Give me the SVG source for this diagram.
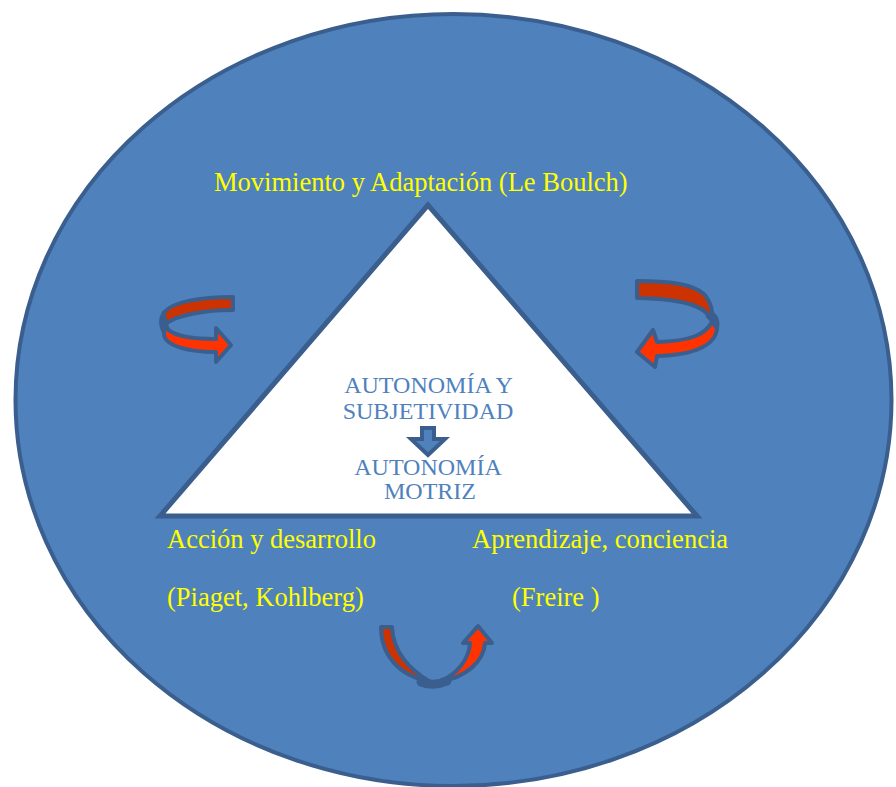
<svg xmlns="http://www.w3.org/2000/svg" width="896" height="787" viewBox="0 0 896 787">
<style>
.y{font-family:"Liberation Serif","Times New Roman",serif;font-size:26.5px;fill:#FFFF00}
.c{font-family:"Liberation Serif","Times New Roman",serif;font-size:24px;fill:#4F81BD;text-anchor:middle}
.ol{stroke:#3A5F8E;stroke-width:4;stroke-linejoin:round}
.dk{fill:#CC3300}
.br{fill:#FF3300}
</style>
<rect width="896" height="787" fill="#FFFFFF"/>
<g id="circle">
<ellipse cx="453.5" cy="400" rx="438" ry="386" fill="#4F81BD" stroke="#3A5F8E" stroke-width="4"/>
</g>
<g id="triangle">
<polygon points="428,205 160,516 697,516" fill="#FFFFFF" stroke="#3A5F8E" stroke-width="5" stroke-linejoin="miter"/>
</g>
<g id="center">
<text class="c" x="428.5" y="393">AUTONOMÍA Y</text>
<text class="c" x="428" y="419">SUBJETIVIDAD</text>
<polygon points="422,428 434,428 434,439 445,439 428,455 411,439 422,439" fill="#4F81BD" stroke="#3A5F8E" stroke-width="4" stroke-linejoin="miter"/>
<text class="c" x="428" y="475">AUTONOMÍA</text>
<text class="c" x="430" y="499">MOTRIZ</text>
</g>
<g id="label-top">
<text class="y" x="214" y="191">Movimiento y Adaptación (Le Boulch)</text>
</g>
<g id="label-left">
<text class="y" x="167" y="548">Acción y desarrollo</text>
<text class="y" x="167" y="606">(Piaget, Kohlberg)</text>
</g>
<g id="label-right">
<text class="y" x="472" y="548">Aprendizaje, conciencia</text>
<text class="y" x="512" y="606">(Freire )</text>
</g>
<g id="connectors">
<g id="arrow-left">
<path d="M 166 314 Q 161 322 166 331" fill="none" stroke="#3A5F8E" stroke-width="9" stroke-linecap="round"/>
<path class="dk ol" d="M 233 297 C 200 297 171 302 164 313 C 164 318 165 321 167 323 C 178 315 205 310 233 310 Z"/>
<path class="br ol" d="M 164 325 C 170 336 190 339 216 339 L 216 328 L 231 345 L 216 362 L 216 352 C 188 352 166 346 164 335 Z"/>
</g>
<g id="arrow-right">
<path d="M 710 315 Q 717 320 714 329" fill="none" stroke="#3A5F8E" stroke-width="9" stroke-linecap="round"/>
<path class="dk ol" d="M 637 281 C 670 281 692 284 704 294 C 711 302 713 312 712 319 C 705 308 690 299 637 298 Z"/>
<path class="br ol" d="M 712 322 C 705 335 690 341 657 342 L 653 330 L 637 352 L 655 367 L 657 356 C 695 355 716 345 717 328 Z"/>
</g>
<g id="arrow-bottom">
<path d="M 421 682 Q 434 687 447 681" fill="none" stroke="#3A5F8E" stroke-width="9" stroke-linecap="round"/>
<path class="dk ol" d="M 381 627 L 392 627 C 393 652 410 670 429 681 C 399 676 381 655 381 627 Z"/>
<path class="br ol" d="M 440 681 C 466 678 484 661 485 643 L 492 643 L 478 626 L 463 643 L 470 643 C 469 659 457 675 440 681 Z"/>
</g>
</g>
</svg>
